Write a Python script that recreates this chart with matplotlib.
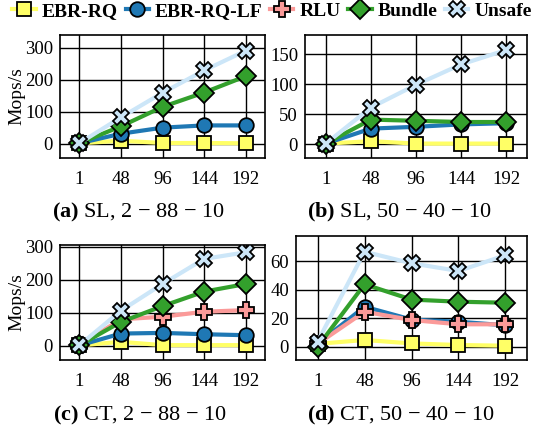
import numpy as np
import matplotlib.pyplot as plt

plt.rcParams['font.family'] = ['Liberation Serif', 'DejaVu Serif']
plt.rcParams['mathtext.fontset'] = 'custom'
plt.rcParams['mathtext.rm'] = 'Liberation Serif'
plt.rcParams['mathtext.bf'] = 'Liberation Serif:bold'

threads = ["1", "48", "96", "144", "192"]
series = ["EBR-RQ", "EBR-RQ-LF", "RLU", "Bundle", "Unsafe"]

# Mops/s per panel, per series (None = not shown)
sl_2_88 = {
    "EBR-RQ": [1, 9, 2, 2, 1],
    "EBR-RQ-LF": [1, 31, 50, 57, 57],
    "RLU": None,
    "Bundle": [1, 54, 115, 160, 211],
    "Unsafe": [1, 82, 159, 229, 291],
}
sl_50_40 = {
    "EBR-RQ": [1, 5, 1, 1, 1],
    "EBR-RQ-LF": [1, 26, 29, 33, 35],
    "RLU": None,
    "Bundle": [1, 41, 39, 37, 37],
    "Unsafe": [1, 61, 99, 133, 157],
}
ct_2_88 = {
    "EBR-RQ": [1, 12, 2, 2, 2],
    "EBR-RQ-LF": [1, 37, 39, 35, 32],
    "RLU": [1, 80, 88, 103, 108],
    "Bundle": [1, 72, 120, 164, 187],
    "Unsafe": [1, 106, 187, 263, 283],
}
ct_50_40 = {
    "EBR-RQ": [2, 4.7, 2.3, 1.2, 0.7],
    "EBR-RQ-LF": [2, 28, 19, 17.5, 15],
    "RLU": [2, 24.5, 18.7, 15.7, 15.7],
    "Bundle": [0, 43.7, 33, 31.5, 30.8],
    "Unsafe": [3.5, 66.5, 58.4, 53, 64],
}

styles = {
    "EBR-RQ": dict(marker='s', mfc='#ffff66', color='#ffff66', ms=10),
    "EBR-RQ-LF": dict(marker='o', mfc='#1f78b4', color='#1f78b4', ms=10.5),
    "RLU": dict(marker='P', mfc='#fb9a99', color='#fb9a99', ms=12),
    "Bundle": dict(marker='D', mfc='#33a02c', color='#33a02c', ms=10),
    "Unsafe": dict(marker='X', mfc='#cce6f8', color='#cce6f8', ms=12),
}

W, H = 544, 433
fig = plt.figure(figsize=(W / 100, H / 100), dpi=100)


def box(l, r, t, b):
    return [l / W, (H - b) / H, (r - l) / W, (b - t) / H]


panels = [
    (sl_2_88, box(60, 265, 35, 158), (-45, 340), [0, 100, 200, 300], True,
     r"$\mathbf{(a)}$ SL, 2 $-$ 88 $-$ 10", (138, 212)),
    (sl_50_40, box(305, 527, 35, 158), (-23, 182), [0, 50, 100, 150], False,
     r"$\mathbf{(b)}$ SL, 50 $-$ 40 $-$ 10", (400, 212)),
    (ct_2_88, box(60, 265, 245, 360), (-43, 305), [0, 100, 200, 300], True,
     r"$\mathbf{(c)}$ CT, 2 $-$ 88 $-$ 10", (140, 415)),
    (ct_50_40, box(296, 527, 236, 360), (-9.3, 77.5), [0, 20, 40, 60], False,
     r"$\mathbf{(d)}$ CT, 50 $-$ 40 $-$ 10", (401, 415)),
]

x = np.arange(len(threads))
handles = {}
for data, rect, ylim, yticks, ylab, cap, cpos in panels:
    ax = fig.add_axes(rect)
    for name in series:
        vals = data[name]
        if vals is None:
            continue
        st = styles[name]
        ln, = ax.plot(x, vals, marker=st['marker'], color=st['color'], lw=3,
                      mfc=st['mfc'], mec='black', mew=1.3, ms=st['ms'],
                      zorder=3)
        handles[name] = ln
    ax.set_xlim(-0.46, 4.46)
    ax.set_ylim(*ylim)
    ax.set_xticks(x)
    ax.set_xticklabels(threads)
    ax.set_yticks(yticks)
    ax.grid(True, color='black', lw=1, zorder=0)
    ax.set_axisbelow(True)
    ax.tick_params(length=0, labelsize=13.5)
    ax.tick_params(axis='x', pad=9)
    ax.tick_params(axis='y', pad=5)
    for s in ax.spines.values():
        s.set_linewidth(1.2)
    if ylab:
        ax.set_ylabel("Mops/s", fontsize=14, labelpad=0)
    fig.text(cpos[0] / W, 1 - cpos[1] / H, cap, ha='center', va='center',
             fontsize=16)

fig.legend([handles[n] for n in series], series, loc='center', ncol=5,
           bbox_to_anchor=(0.5, 1 - 11 / H), frameon=False,
           prop={'weight': 'bold', 'size': 14}, handlelength=1.2,
           handletextpad=0.3, columnspacing=0.4, borderaxespad=0)

fig.savefig("out.png", dpi=100)
